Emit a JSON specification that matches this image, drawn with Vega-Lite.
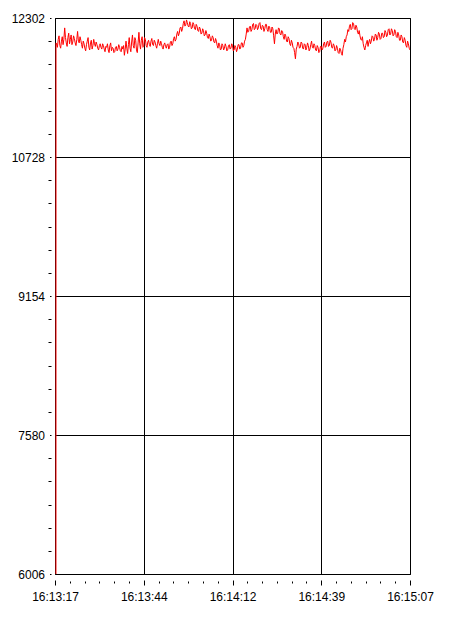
{
  "$schema": "https://vega.github.io/schema/vega-lite/v6.json",
  "width": 355,
  "height": 556,
  "autosize": {"type": "none"},
  "padding": {"left": 55, "top": 18, "right": 55, "bottom": 43},
  "background": "#ffffff",
  "config": {
    "view": {"stroke": "#000000", "strokeWidth": 1},
    "axis": {"labelFont": "Liberation Sans", "labelFontSize": 12, "labelColor": "#000000", "tickColor": "#000000", "gridColor": "#000000", "gridOpacity": 1, "gridWidth": 1, "domain": false, "title": null, "labelOverlap": false, "labelFlush": false}
  },
  "data": {"values": [
    {"s":0.3,"v":6006},{"s":0.31,"v":12020},{"s":0.5,"v":12010},{"s":0.75,"v":11970},{"s":1,"v":12060},{"s":1.25,"v":12100},{"s":1.5,"v":11990},{"s":1.75,"v":11960},
    {"s":2,"v":12040},{"s":2.25,"v":12090},{"s":2.5,"v":12000},{"s":2.75,"v":12060},{"s":3,"v":12190},{"s":3.25,"v":12080},{"s":3.5,"v":12020},{"s":3.75,"v":11980},
    {"s":4,"v":12080},{"s":4.25,"v":12130},{"s":4.5,"v":12010},{"s":4.75,"v":12060},{"s":5,"v":12110},{"s":5.25,"v":12000},{"s":5.5,"v":12030},{"s":5.75,"v":12100},
    {"s":6,"v":12070},{"s":6.25,"v":12020},{"s":6.5,"v":11990},{"s":6.75,"v":12060},{"s":7,"v":12150},{"s":7.25,"v":12040},{"s":7.5,"v":12020},{"s":7.75,"v":12090},
    {"s":8,"v":12050},{"s":8.25,"v":12000},{"s":8.5,"v":11960},{"s":8.75,"v":12040},{"s":9,"v":12010},{"s":9.25,"v":11960},{"s":9.5,"v":11930},{"s":9.75,"v":12000},
    {"s":10,"v":12040},{"s":10.25,"v":12080},{"s":10.5,"v":11970},{"s":10.75,"v":11940},{"s":11,"v":12020},{"s":11.25,"v":12050},{"s":11.5,"v":11950},{"s":11.75,"v":11990},
    {"s":12,"v":12060},{"s":12.25,"v":12010},{"s":12.5,"v":11980},{"s":12.75,"v":12030},{"s":13,"v":12000},{"s":13.25,"v":11960},{"s":13.5,"v":11940},{"s":13.75,"v":11990},
    {"s":14,"v":12010},{"s":14.25,"v":11970},{"s":14.5,"v":11950},{"s":14.75,"v":12010},{"s":15,"v":11990},{"s":15.25,"v":11950},{"s":15.5,"v":11920},{"s":15.75,"v":11980},
    {"s":16,"v":11970},{"s":16.25,"v":12010},{"s":16.5,"v":11940},{"s":16.75,"v":11910},{"s":17,"v":11990},{"s":17.25,"v":12020},{"s":17.5,"v":11930},{"s":17.75,"v":11970},
    {"s":18,"v":11960},{"s":18.25,"v":11910},{"s":18.5,"v":11920},{"s":18.75,"v":11970},{"s":19,"v":11980},{"s":19.25,"v":11930},{"s":19.5,"v":11950},{"s":19.75,"v":12000},
    {"s":20,"v":11970},{"s":20.25,"v":11930},{"s":20.5,"v":11920},{"s":20.75,"v":11980},{"s":21,"v":11950},{"s":21.25,"v":11990},{"s":21.5,"v":11880},{"s":21.75,"v":11950},
    {"s":22,"v":12040},{"s":22.25,"v":11960},{"s":22.5,"v":11900},{"s":22.75,"v":12000},{"s":23,"v":12080},{"s":23.25,"v":11960},{"s":23.5,"v":11920},{"s":23.75,"v":12030},
    {"s":24,"v":12110},{"s":24.25,"v":11990},{"s":24.5,"v":11960},{"s":24.75,"v":12080},{"s":25,"v":12050},{"s":25.25,"v":11940},{"s":25.5,"v":11910},{"s":25.75,"v":12020},
    {"s":26,"v":12140},{"s":26.25,"v":12010},{"s":26.5,"v":11950},{"s":26.75,"v":12050},{"s":27,"v":12090},{"s":27.25,"v":11970},{"s":27.5,"v":11980},{"s":27.75,"v":12080},
    {"s":28,"v":12060},{"s":28.25,"v":11990},{"s":28.5,"v":11970},{"s":28.75,"v":12030},{"s":29,"v":12050},{"s":29.25,"v":12000},{"s":29.5,"v":11980},{"s":29.75,"v":12040},
    {"s":30,"v":12070},{"s":30.25,"v":12000},{"s":30.5,"v":11990},{"s":30.75,"v":12050},{"s":31,"v":12030},{"s":31.25,"v":11990},{"s":31.5,"v":11960},{"s":31.75,"v":12010},
    {"s":32,"v":12060},{"s":32.25,"v":12010},{"s":32.5,"v":11990},{"s":32.75,"v":12040},{"s":33,"v":12010},{"s":33.25,"v":11970},{"s":33.5,"v":11950},{"s":33.75,"v":12000},
    {"s":34,"v":12020},{"s":34.25,"v":11980},{"s":34.5,"v":11960},{"s":34.75,"v":12000},{"s":35,"v":12010},{"s":35.25,"v":11950},{"s":35.5,"v":11970},{"s":35.75,"v":12030},
    {"s":36,"v":12040},{"s":36.25,"v":11990},{"s":36.5,"v":12010},{"s":36.75,"v":12070},{"s":37,"v":12090},{"s":37.25,"v":12040},{"s":37.5,"v":12060},{"s":37.75,"v":12120},
    {"s":38,"v":12150},{"s":38.25,"v":12100},{"s":38.5,"v":12130},{"s":38.75,"v":12190},{"s":39,"v":12200},{"s":39.25,"v":12150},{"s":39.5,"v":12180},{"s":39.75,"v":12240},
    {"s":40,"v":12270},{"s":40.25,"v":12210},{"s":40.5,"v":12220},{"s":40.75,"v":12280},{"s":41,"v":12250},{"s":41.25,"v":12210},{"s":41.5,"v":12200},{"s":41.75,"v":12260},
    {"s":42,"v":12240},{"s":42.25,"v":12180},{"s":42.5,"v":12190},{"s":42.75,"v":12250},{"s":43,"v":12230},{"s":43.25,"v":12180},{"s":43.5,"v":12170},{"s":43.75,"v":12230},
    {"s":44,"v":12210},{"s":44.25,"v":12160},{"s":44.5,"v":12150},{"s":44.75,"v":12200},{"s":45,"v":12180},{"s":45.25,"v":12120},{"s":45.5,"v":12130},{"s":45.75,"v":12180},
    {"s":46,"v":12160},{"s":46.25,"v":12100},{"s":46.5,"v":12110},{"s":46.75,"v":12160},{"s":47,"v":12130},{"s":47.25,"v":12080},{"s":47.5,"v":12070},{"s":47.75,"v":12120},
    {"s":48,"v":12090},{"s":48.25,"v":12040},{"s":48.5,"v":12050},{"s":48.75,"v":12100},{"s":49,"v":12080},{"s":49.25,"v":12030},{"s":49.5,"v":12020},{"s":49.75,"v":12070},
    {"s":50,"v":12040},{"s":50.25,"v":11990},{"s":50.5,"v":11960},{"s":50.75,"v":12020},{"s":51,"v":12000},{"s":51.25,"v":11940},{"s":51.5,"v":11950},{"s":51.75,"v":12010},
    {"s":52,"v":11990},{"s":52.25,"v":11940},{"s":52.5,"v":11960},{"s":52.75,"v":12010},{"s":53,"v":11980},{"s":53.25,"v":11930},{"s":53.5,"v":11940},{"s":53.75,"v":11990},
    {"s":54,"v":12000},{"s":54.25,"v":11950},{"s":54.5,"v":11960},{"s":54.75,"v":12010},{"s":55,"v":11990},{"s":55.25,"v":11930},{"s":55.5,"v":11940},{"s":55.75,"v":11990},
    {"s":56,"v":11970},{"s":56.25,"v":11920},{"s":56.5,"v":11950},{"s":56.75,"v":12000},{"s":57,"v":12000},{"s":57.25,"v":11950},{"s":57.5,"v":11960},{"s":57.75,"v":12020},
    {"s":58,"v":12020},{"s":58.25,"v":11970},{"s":58.5,"v":11990},{"s":58.75,"v":12040},{"s":59,"v":12060},{"s":59.25,"v":12120},{"s":59.5,"v":12190},{"s":59.75,"v":12140},
    {"s":60,"v":12150},{"s":60.25,"v":12200},{"s":60.5,"v":12210},{"s":60.75,"v":12150},{"s":61,"v":12170},{"s":61.25,"v":12230},{"s":61.5,"v":12240},{"s":61.75,"v":12170},
    {"s":62,"v":12180},{"s":62.25,"v":12230},{"s":62.5,"v":12220},{"s":62.75,"v":12170},{"s":63,"v":12190},{"s":63.25,"v":12240},{"s":63.5,"v":12250},{"s":63.75,"v":12180},
    {"s":64,"v":12170},{"s":64.25,"v":12220},{"s":64.5,"v":12210},{"s":64.75,"v":12150},{"s":65,"v":12180},{"s":65.25,"v":12230},{"s":65.5,"v":12230},{"s":65.75,"v":12170},
    {"s":66,"v":12150},{"s":66.25,"v":12210},{"s":66.5,"v":12200},{"s":66.75,"v":12140},{"s":67,"v":12140},{"s":67.25,"v":12200},{"s":67.5,"v":12180},{"s":67.75,"v":12100},
    {"s":68,"v":12010},{"s":68.25,"v":12120},{"s":68.5,"v":12170},{"s":68.75,"v":12120},{"s":69,"v":12130},{"s":69.25,"v":12190},{"s":69.5,"v":12180},{"s":69.75,"v":12120},
    {"s":70,"v":12110},{"s":70.25,"v":12160},{"s":70.5,"v":12150},{"s":70.75,"v":12090},{"s":71,"v":12060},{"s":71.25,"v":12120},{"s":71.5,"v":12100},{"s":71.75,"v":12040},
    {"s":72,"v":12030},{"s":72.25,"v":12090},{"s":72.5,"v":12070},{"s":72.75,"v":12010},{"s":73,"v":11990},{"s":73.25,"v":12050},{"s":73.5,"v":12020},{"s":73.75,"v":11970},
    {"s":74,"v":11960},{"s":74.25,"v":11910},{"s":74.5,"v":11840},{"s":74.75,"v":11950},{"s":75,"v":11980},{"s":75.25,"v":12030},{"s":75.5,"v":12010},{"s":75.75,"v":11960},
    {"s":76,"v":11970},{"s":76.25,"v":12030},{"s":76.5,"v":12020},{"s":76.75,"v":11960},{"s":77,"v":11950},{"s":77.25,"v":12010},{"s":77.5,"v":12000},{"s":77.75,"v":11940},
    {"s":78,"v":11970},{"s":78.25,"v":12020},{"s":78.5,"v":11990},{"s":78.75,"v":11930},{"s":79,"v":11950},{"s":79.25,"v":12000},{"s":79.5,"v":12040},{"s":79.75,"v":11970},
    {"s":80,"v":11960},{"s":80.25,"v":12010},{"s":80.5,"v":11990},{"s":80.75,"v":11940},{"s":81,"v":11930},{"s":81.25,"v":11990},{"s":81.5,"v":11970},{"s":81.75,"v":11910},
    {"s":82,"v":11920},{"s":82.25,"v":11980},{"s":82.5,"v":11980},{"s":82.75,"v":11940},{"s":83,"v":11960},{"s":83.25,"v":12010},{"s":83.5,"v":12030},{"s":83.75,"v":11970},
    {"s":84,"v":11980},{"s":84.25,"v":12030},{"s":84.5,"v":12040},{"s":84.75,"v":11980},{"s":85,"v":11990},{"s":85.25,"v":12050},{"s":85.5,"v":12030},{"s":85.75,"v":11970},
    {"s":86,"v":11960},{"s":86.25,"v":12010},{"s":86.5,"v":11990},{"s":86.75,"v":11930},{"s":87,"v":11940},{"s":87.25,"v":11990},{"s":87.5,"v":11960},{"s":87.75,"v":11910},
    {"s":88,"v":11900},{"s":88.25,"v":11960},{"s":88.5,"v":11940},{"s":88.75,"v":11900},{"s":89,"v":11880},{"s":89.25,"v":11960},{"s":89.5,"v":12000},{"s":89.75,"v":12060},
    {"s":90,"v":12030},{"s":90.25,"v":12090},{"s":90.5,"v":12110},{"s":90.75,"v":12170},{"s":91,"v":12150},{"s":91.25,"v":12210},{"s":91.5,"v":12230},{"s":91.75,"v":12170},
    {"s":92,"v":12180},{"s":92.25,"v":12250},{"s":92.5,"v":12240},{"s":92.75,"v":12180},{"s":93,"v":12170},{"s":93.25,"v":12220},{"s":93.5,"v":12200},{"s":93.75,"v":12140},
    {"s":94,"v":12120},{"s":94.25,"v":12160},{"s":94.5,"v":12100},{"s":94.75,"v":12060},{"s":95,"v":12050},{"s":95.25,"v":12090},{"s":95.5,"v":12010},{"s":95.75,"v":11970},
    {"s":96,"v":11940},{"s":96.25,"v":11990},{"s":96.5,"v":12020},{"s":96.75,"v":12050},{"s":97,"v":11980},{"s":97.25,"v":12030},{"s":97.5,"v":12060},{"s":97.75,"v":12010},
    {"s":98,"v":12040},{"s":98.25,"v":12100},{"s":98.5,"v":12090},{"s":98.75,"v":12040},{"s":99,"v":12060},{"s":99.25,"v":12120},{"s":99.5,"v":12110},{"s":99.75,"v":12050},
    {"s":100,"v":12080},{"s":100.25,"v":12140},{"s":100.5,"v":12120},{"s":100.75,"v":12060},{"s":101,"v":12070},{"s":101.25,"v":12130},{"s":101.5,"v":12130},{"s":101.75,"v":12080},
    {"s":102,"v":12090},{"s":102.25,"v":12160},{"s":102.5,"v":12140},{"s":102.75,"v":12090},{"s":103,"v":12110},{"s":103.25,"v":12170},{"s":103.5,"v":12180},{"s":103.75,"v":12110},
    {"s":104,"v":12120},{"s":104.25,"v":12180},{"s":104.5,"v":12160},{"s":104.75,"v":12100},{"s":105,"v":12110},{"s":105.25,"v":12170},{"s":105.5,"v":12150},{"s":105.75,"v":12090},
    {"s":106,"v":12080},{"s":106.25,"v":12140},{"s":106.5,"v":12110},{"s":106.75,"v":12050},{"s":107,"v":12050},{"s":107.25,"v":12110},{"s":107.5,"v":12090},{"s":107.75,"v":12030},
    {"s":108,"v":12020},{"s":108.25,"v":12080},{"s":108.5,"v":12050},{"s":108.75,"v":11990},{"s":109,"v":11970},{"s":109.25,"v":12040},{"s":109.5,"v":12010},{"s":109.75,"v":11960},
    {"s":110,"v":11940}
  ]},
  "layer": [
    {
      "mark": {"type": "line", "color": "#ff0000", "strokeWidth": 1, "clip": true},
      "encoding": {
        "x": {"field": "s", "type": "quantitative", "scale": {"domain": [0, 110], "nice": false, "zero": false},
          "axis": {"orient": "bottom", "values": [0, 27.5, 55, 82.5, 110], "grid": true, "ticks": true, "tickSize": 5, "offset": 6, "labelPadding": 6,
            "labelExpr": "datum.value == 0 ? '16:13:17' : datum.value == 27.5 ? '16:13:44' : datum.value == 55 ? '16:14:12' : datum.value == 82.5 ? '16:14:39' : '16:15:07'"}},
        "y": {"field": "v", "type": "quantitative", "scale": {"domain": [6006, 12302], "nice": false, "zero": false},
          "axis": {"orient": "left", "values": [6006, 7580, 9154, 10728, 12302], "grid": true, "ticks": true, "tickSize": 1.5, "offset": 4, "labelPadding": 5, "format": "d"}}
      }
    },
    {
      "mark": {"type": "line", "opacity": 0},
      "encoding": {
        "x": {"field": "s", "type": "quantitative",
          "axis": {"orient": "bottom", "values": [4.5833, 9.1667, 13.75, 18.3333, 22.9167, 32.0833, 36.6667, 41.25, 45.8333, 50.4167, 59.5833, 64.1667, 68.75, 73.3333, 77.9167, 87.0833, 91.6667, 96.25, 100.8333, 105.4167],
            "grid": false, "labels": false, "ticks": true, "tickSize": 2, "offset": 7}},
        "y": {"field": "v", "type": "quantitative",
          "axis": {"orient": "left", "values": [6268.33, 6530.67, 6793, 7055.33, 7317.67, 7842.33, 8104.67, 8367, 8629.33, 8891.67, 9416.33, 9678.67, 9941, 10203.33, 10465.67, 10990.33, 11252.67, 11515, 11777.33, 12039.67],
            "grid": false, "labels": false, "ticks": true, "tickSize": 3, "offset": 4}}
      }
    }
  ],
  "resolve": {"axis": {"x": "independent", "y": "independent"}}
}
